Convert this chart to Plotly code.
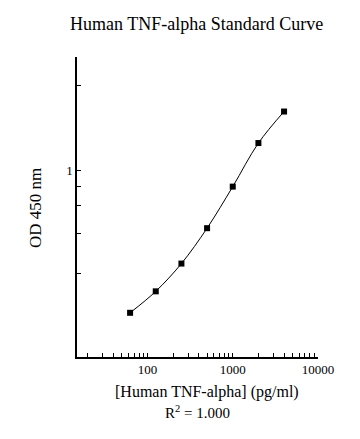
import numpy as np
import plotly.graph_objects as go

# Data
conc = [62.5, 125, 250, 500, 1000, 2000, 4000]          # pg/ml
od = [0.312, 0.372, 0.467, 0.624, 0.877, 1.253, 1.622]  # OD 450 nm

x_major = [100, 1000, 10000]
x_major_text = ["100", "1000", "10000"]
x_minor = [20, 30, 40, 50, 60, 70, 80, 90,
           200, 300, 400, 500, 600, 700, 800, 900,
           2000, 3000, 4000, 5000, 6000, 7000, 8000, 9000]

y_major = [1.0]
y_major_text = ["1"]
y_minor = [2.0, 0.877, 0.750, 0.599, 0.431]

title_text = "Human TNF-alpha Standard Curve"
x_title = "[Human TNF-alpha] (pg/ml)"
y_title = "OD 450 nm"
r2_text = "R<sup>2</sup> = 1.000"

FONT = "Liberation Serif, Times New Roman, serif"

fig = go.Figure()
fig.add_trace(go.Scatter(
    x=conc, y=od, mode="lines+markers",
    line=dict(color="black", width=1, shape="spline", smoothing=1.0),
    marker=dict(symbol="square", size=6, color="black"),
    showlegend=False,
))

# page body has an 8px margin; work in page coordinates and offset
OFF = 8
W, H = 360 - OFF, 439 - OFF
L, T = 77 - OFF, 57 - OFF
R = W - (318 - OFF)
B = H - (357 - OFF)

fig.update_layout(
    width=W, height=H,
    margin=dict(l=L, r=R, t=T, b=B, autoexpand=False),
    paper_bgcolor="white", plot_bgcolor="white",
    font=dict(family=FONT, color="black", size=13),
    showlegend=False,
)

tick_style = dict(ticks="inside", ticklen=4, tickwidth=1, tickcolor="black")

fig.update_xaxes(
    type="log", range=[np.log10(14.9), 4.0],
    tickmode="array", tickvals=x_major, ticktext=x_major_text, tickangle=0,
    minor=dict(tickmode="array", tickvals=x_minor, showgrid=False, **tick_style),
    showline=True, linecolor="black", linewidth=1.5,
    showgrid=False, zeroline=False,
    tickfont=dict(family=FONT, size=13, color="black"),
    **tick_style,
)
fig.update_yaxes(
    type="log", range=[-0.663, 0.404],
    tickmode="array", tickvals=y_major, ticktext=y_major_text,
    minor=dict(tickmode="array", tickvals=y_minor, showgrid=False, **tick_style),
    showline=True, linecolor="black", linewidth=1.5,
    showgrid=False, zeroline=False,
    tickfont=dict(family=FONT, size=13, color="black"),
    **tick_style,
)

pw = W - L - R
ph = H - T - B
def px(x):
    return (x - OFF - L) / pw
def py(y):
    return (H - B - (y - OFF)) / ph

fig.add_annotation(text=title_text, xref="paper", yref="paper",
                   x=px(196), y=py(24), showarrow=False,
                   font=dict(family=FONT, size=18, color="black"),
                   xanchor="center", yanchor="middle")
fig.add_annotation(text=x_title, xref="paper", yref="paper",
                   x=px(207), y=py(392), showarrow=False,
                   font=dict(family=FONT, size=16, color="black"),
                   xanchor="center", yanchor="middle")
fig.add_annotation(text=r2_text, xref="paper", yref="paper",
                   x=px(197), y=py(412), showarrow=False,
                   font=dict(family=FONT, size=15, color="black"),
                   xanchor="center", yanchor="middle")
fig.add_annotation(text=y_title, xref="paper", yref="paper",
                   x=px(35), y=py(208), showarrow=False, textangle=-90,
                   font=dict(family=FONT, size=17, color="black"),
                   xanchor="center", yanchor="middle")

fig.write_html("out.html")
